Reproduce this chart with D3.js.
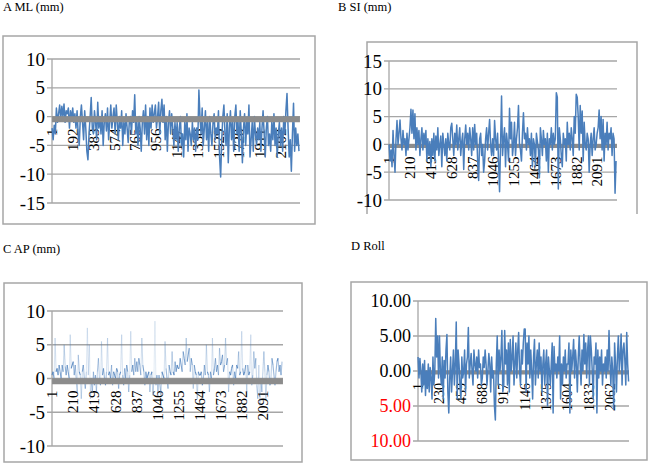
<!DOCTYPE html>
<html>
<head>
<meta charset="utf-8">
<script src="https://cdn.jsdelivr.net/npm/d3@7"></script>
<style>
body { margin: 0; background: #fff; }
svg { display: block; }
text { font-family: "Liberation Serif", "Times New Roman", serif; fill: #000; }
</style>
</head>
<body>
<div class="charts"></div>
<script>
// A - ML (mm), one reading every 10 samples
var aCount = 2280;
var aStep = 10;
var aValues = [
	-2, -4, -1.5, -3, 1.5, -1, 0.5, 2, -0.5, 1.8, 0, 2.2, -1, 1, 0.5, 1.5, -2, 1, -0.5,
	1.5, -1, 0.5, -2, 1, -3, -5, 0, 2, -1, -4, 1, -2, -6, -7.5, -3, 0, 3.3, -2,
	-3, 1, -1, -4, 2.5, -2, 0, -3, 1, -5, -1, 0.5, -2.5, 1.5, -4, -1, 2, -2, 0,
	1.5, -3, 2, -1, -4, 0, -2, 1, -5, -1, -3, 0.5, -2, -4.5, -1, 0, -3, 1, -1,
	3.8, -3, -1, -5, 0, -2, -6, -1, 1, -3, 2, -4, 0, -5, 1.5, -2, 2, -1, 0.5,
	2, -2, 0, 2.5, -3, 1, 3, -1, 2, -4, 0, -6, -1, 1, -3, 0.5, -2, -5, -1,
	-4, -1, -6, -2, 0, -5, -3, -7, -1, -4, 0.5, -6, -2, -3, -5, -1, -4, -2, -6,
	-2, -4, 4.6, 0, -3, 1.5, -5, -2, 1, -4, -1, -6, 0, -3, -5, -1, 0.5, -4, -2,
	-3, 1, -7, -10.5, -4, 0, 2, -3, -5, 0.5, -8, -2, 1, -4, -1, -6, 0, 2, -3,
	-1, -6, 1, -3, -8, -2, 0.5, -5, -1, -3, 2, -7, -4, -1, -6, 0, -3, -5, -2,
	-4, -1, -6, -2, 1, -3, -7, -2, 0, -5, -3, -6, -1, -4, 0.5, -5, -2, -7, -3,
	-1, -5, -2, -6, 0, -3, 1, 4, -2, -7, -4, -9.5, -3, 2.3, -6, -2, -5, -3, -6
];
var aTicks = [1, 192, 383, 574, 765, 956, 1147, 1338, 1529, 1720, 1911, 2102];
var aYTicks = [10, 5, 0, -5, -10, -15];

// B - SI (mm)
var bCount = 2290;
var bStep = 10;
var bValues = [
	0, -3, -1, -4, 2.5, -2, -5, 1, 4.3, 0, 2, 4.4, 1, -1, 2.5, 0, 1, -2, 2, -1, 1,
	3, 6.3, 2, 6.2, 1, 5.5, -1, 3, 0, 2.5, -2, 1, 3, -1, 2, 0, 2.5, -3, 1, -2, 0.5,
	-4, 1, -2, 2, -3, 1.5, -1, 3, -2, 0, 1.5, -4, 2, 0, -2, 1, -3, 2, 0, -1, 3,
	3.8, 1, -2, 2, 0, 3.5, -1, 1, 3, -2, 0.5, 2, -4.5, 1, 3.5, 0, 2, -1, 3, 1, -2,
	3, -1, 3.6, 0, 2, -3, -6.5, 1, 2, -2, 0, -5, -3, 1, 3, -1, 2, 4.5, 0, -2, 1,
	-2, 4.3, 1, -1, 2, -3, -8.5, 0, 8.7, -2, 1, 3, -4, 2, 0, -3, 6.5, 1, 4, -2, 0,
	4, -2, 1, 3, 7, 0, -1, -3, 2, 5.7, 1, 2, -1, 3, 0, 1, -2, 2, -4, 1, 0,
	-4, 2, 0.5, -1, -6, 3, 1, -2, 2.5, 0, 1, -3, 2, -5, 1, 0, 3, -1, 2, 0, 1,
	9.3, 8.5, -8, 3, 1, -2, -4, 2, 0, 1, -3, 4, 0, 2, -1, 3, 1, -2, 5, 2, 9,
	8.5, 5, -1, 7, 2, 6, -3, 4, 0, -1, 2, 1, -5, 0, 2, -2, 1, 3, -1, 0, 2,
	3, 6.2, 1, 5, -1, 4.5, -3, 2, 0, 4, -1, 2, 1, 3, -2, 2, 1, -8.8, -3
];
var bTicks = [1, 210, 419, 628, 837, 1046, 1255, 1464, 1673, 1882, 2091];
var bYTicks = [15, 10, 5, 0, -5, -10];

// C - AP (mm)
var cCount = 2290;
var cStep = 10;
var cValues = [
	0.5, 1, 0, 6, 1, 1.5, 0.5, 2, 1, 0, 2, 1, 5, 1.8, 0.5, 2, 1, 0, 6.5, 1.5, 2,
	2.5, 0.5, 2, 0, -2, 3.5, 1, 0.5, -3, 1, 2, 0, -1.5, 1, 7.5, 0.5, 5, -3, 0, -2, 1,
	-1, 0.5, -2, 1, 3, 0, -1, 5.5, 0.5, 1.5, 0, -1, 1, 6, 0.5, 1, 0, 2, -1, 1, 0.5,
	0, 1.5, 1, -1.5, 0.5, 1, 6.5, 0.5, -1, 1.5, 0, 2, 1, -2, 0.5, 7, 1, 2, 0.5, 3, 1,
	2.5, 1, 3, 2, 0.5, 6, 2, 1, -1, 1, 0, 0.5, 1, -2, 0.5, 1, -2.5, 0, 8.5, -1, 0.5,
	-2, 0.5, -1, -2.5, 1, 0.5, 0, 5.5, 1.5, 0, -1.5, 2, 1, 0.5, 4, 1, 0.5, 2.5, 1, 2, 1.5,
	1.5, 3, 2, 1, 4, 3, 2, 6, 2.5, 3.5, 4.5, 1, 3, 2, -1.5, 2, 1, 0.5, -3, 1, 0.5,
	0.5, 1, -1, 0, 2, 0.5, 5, 1, 0.5, -2, 1, 0, 6, 0.5, 1.5, 3, 1, 2, 0.5, 4.5, 2,
	2.5, 3.5, 1, 2, 6, 2, 3, -2, 1, 0.5, 1.5, 2, -1, 1, 0, 2, 1.5, 4, 0.5, 1, 7,
	1.5, 0.5, 1, 2, -2, 2, 0.5, 1, 6.5, -1, 0.5, 4, 1.5, 3, -1, -3, 2, -4, 0, -2, 1,
	4, 1, -3, 0.5, 2, 1, -1, 0, 3, 2, 0.5, -1, 1, 2.5, 3, 1, 2, 0.5, 2.5
];
var cTicks = [1, 210, 419, 628, 837, 1046, 1255, 1464, 1673, 1882, 2091];
var cYTicks = [10, 5, 0, -5, -10];

// D - Roll
var dCount = 2265;
var dStep = 10;
var dValues = [
	2, -1, 1.8, 0, -3, 1, -2, 1.5, -3.5, 0, -2.5, 1, -3, 0.5, -1, -4, 2, -2, 0, 7.5, 2, 5, -1,
	5, 0, -2, 2, -4, 1.5, -1, 3, 5.2, -3, -6, -1, 2, -3, 0, 3, -2, 1, 7, -4, 3, 1, -2,
	-4, 2, -1, 0, 3, -3, 1, 2, 6.2, -1, 1, 2.5, 0, -2, 3, 1, 0, 2, -1, 3, 0.5, 1, -2,
	-1, 2, 0.5, 3, 1, -2, 0, 2.5, 1, -3, 2, -1, 0, -5, -7, 1, 5, -2, 3, 0, 2, 5.8, -3,
	-2, 5.8, 1, 3, -2, 4, -3, 4.5, 0, 2, 5, -2, 1, 4, -1, 3, 5.5, 0, -2, 3, 1, 4, 6,
	6, -3, 4, 1, 5, -1, 3, 0, -4, 2, 4.5, -2, 1, 3, -1, 4, 0, 2, -3, 1, 3, -2, 1,
	3, -5, 2, 0, -2, 1, 4, -6, 3.5, 0, 1, -1, 2, 0, 5, -4, 1, -2, 2, 0, 3, -1, 1,
	1, 4, -6, 3, 0, 2, 4.5, -1, 3, 1, -3, 2, 5, 1, -2, 3, 0, 5.2, 1, 4, -1, 3, 5,
	-2, 5, 3, 0, -4, 2, 1, 4, -6, 3, -1, 2, 0, 3, -2, 1, 0, 2, -1, 3, 0, 5.8, 1,
	-2, 2, 0, -5.5, 4, 1, -3, 2, 5, 0, 2, 5.3, -2, 3, 4, 1.5, -2, 5.5, 1, -1.5
];
var dTicks = [1, 230, 459, 688, 917, 1146, 1375, 1604, 1833, 2062];
var dYTicks = [10, 5, 0, -5, -10];

// grey second series (flat level) per panel
var refLevels = [-0.45, -0.3, -0.4, -0.2];

function Panel(svg, opt) {
	this.svg = svg;
	this.opt = opt;
};

Panel.prototype = {
	draw: function() {
		var o = this.opt;
		var g = this.svg.append("g");

		var x = d3.scaleLinear()
			.domain([0.5, o.count + 0.5])
			.range([o.plot[0], o.plot[2]]);
		var y = d3.scaleLinear()
			.domain([d3.min(o.yTicks), d3.max(o.yTicks)])
			.range([o.plot[3], o.plot[1]]);

		this.drawBox(g, o);
		this.drawGrid(g, o, y);
		this.drawXLabels(g, o, x, y);

		if (!o.refOnTop) this.drawRef(g, o, x, y);
		if (o.faint) {
			this.drawFaint(g, o, x, y);
		} else {
			this.drawLine(g, o, x, y);
		}
		if (o.refOnTop) this.drawRef(g, o, x, y);

		g.append("text")
			.attr("x", o.title[0])
			.attr("y", o.title[1])
			.style("font-size", "12.5px")
			.text(o.name);
	},
	drawBox: function(g, o) {
		var b = o.box;
		var p = o.open
			? "M" + b[0] + "," + b[3] + "V" + b[1] + "H" + b[2] + "V" + b[3]
			: "M" + b[0] + "," + b[1] + "H" + b[2] + "V" + b[3] + "H" + b[0] + "Z";
		g.append("path")
			.attr("d", p)
			.attr("fill", "none")
			.attr("stroke", "#a6a6a6")
			.attr("stroke-width", 1.5);
	},
	drawGrid: function(g, o, y) {
		g.selectAll(".grid")
			.data(o.yTicks)
			.enter()
			.append("line")
			.attr("x1", o.plot[0] - 5)
			.attr("x2", o.plot[2])
			.attr("y1", function(d) { return y(d); })
			.attr("y2", function(d) { return y(d); })
			.attr("stroke", "#a6a6a6")
			.attr("stroke-width", 1.3);

		g.append("line")
			.attr("x1", o.plot[0])
			.attr("x2", o.plot[0])
			.attr("y1", o.plot[1])
			.attr("y2", o.plot[3])
			.attr("stroke", "#a6a6a6")
			.attr("stroke-width", 1.3);

		g.selectAll(".ylab")
			.data(o.yTicks)
			.enter()
			.append("text")
			.attr("x", o.plot[0] - 7)
			.attr("y", function(d) { return y(d); })
			.attr("dy", "0.35em")
			.attr("text-anchor", "end")
			.style("font-size", o.yFont + "px")
			.style("fill", function(d) { return o.redNeg && d < 0 ? "#ff0000" : "#000"; })
			.text(o.yFormat);
	},
	drawXLabels: function(g, o, x, y) {
		var y0 = y(0) + 12;
		g.selectAll(".xlab")
			.data(o.ticks)
			.enter()
			.append("text")
			.attr("transform", function(d) {
				return "translate(" + x(d) + "," + y0 + ") rotate(-90)";
			})
			.attr("dy", "0.35em")
			.attr("text-anchor", "end")
			.style("font-size", o.xFont + "px")
			.text(function(d) { return d; });
	},
	drawLine: function(g, o, x, y) {
		var line = d3.line()
			.x(function(d, i) { return x(1 + i * o.step); })
			.y(function(d) { return y(d); });
		g.append("path")
			.datum(o.values)
			.attr("d", line)
			.attr("fill", "none")
			.attr("stroke", "#4a7ebb")
			.attr("stroke-width", 1.5)
			.attr("stroke-linejoin", "round");
	},
	drawFaint: function(g, o, x, y) {
		// thin see-through strokes: short moves stack up dark, long spikes stay pale
		var pairs = d3.pairs(o.values.map(function(d, i) { return [1 + i * o.step, d]; }));
		g.selectAll(".seg")
			.data(pairs)
			.enter()
			.append("line")
			.attr("x1", function(d) { return x(d[0][0]); })
			.attr("y1", function(d) { return y(d[0][1]); })
			.attr("x2", function(d) { return x(d[1][0]); })
			.attr("y2", function(d) { return y(d[1][1]); })
			.attr("stroke", "#4a7ebb")
			.attr("stroke-opacity", function(d) {
				var h = Math.abs(y(d[0][1]) - y(d[1][1]));
				return Math.max(0.14, Math.min(0.85, 9 / (h + 6)));
			})
			.attr("stroke-width", 1.1);
	},
	drawRef: function(g, o, x, y) {
		g.append("line")
			.attr("x1", x(1))
			.attr("x2", x(o.count))
			.attr("y1", y(o.ref))
			.attr("y2", y(o.ref))
			.attr("stroke", "#8c8c8c")
			.attr("stroke-width", o.refWidth);
	}
};

var svg = d3.select(".charts")
	.append("svg")
	.attr("width", 650)
	.attr("height", 466);

var plain = function(d) { return d; };
var fixed2 = function(d) { return Math.abs(d).toFixed(2); };

new Panel(svg, {
	name: "A ML (mm)", title: [3, 11],
	box: [3, 36, 315, 224], plot: [52, 59, 300, 203],
	count: aCount, step: aStep, values: aValues, ticks: aTicks, yTicks: aYTicks,
	yFont: 19, xFont: 15, yFormat: plain,
	ref: refLevels[0], refWidth: 6, refOnTop: true
}).draw();

new Panel(svg, {
	name: "B SI (mm)", title: [338, 11],
	box: [367, 42, 637, 214], plot: [389, 61, 617, 200], open: true,
	count: bCount, step: bStep, values: bValues, ticks: bTicks, yTicks: bYTicks,
	yFont: 19, xFont: 15, yFormat: plain,
	ref: refLevels[1], refWidth: 4, refOnTop: false
}).draw();

new Panel(svg, {
	name: "C AP (mm)", title: [3, 253],
	box: [4, 283, 302, 462], plot: [52, 311, 283, 446],
	count: cCount, step: cStep, values: cValues, ticks: cTicks, yTicks: cYTicks,
	yFont: 19, xFont: 15, yFormat: plain, faint: true,
	ref: refLevels[2], refWidth: 6, refOnTop: true
}).draw();

new Panel(svg, {
	name: "D Roll", title: [351, 250],
	box: [351, 282, 647, 460], plot: [418, 301, 629, 441],
	count: dCount, step: dStep, values: dValues, ticks: dTicks, yTicks: dYTicks,
	yFont: 18, xFont: 14, yFormat: fixed2, redNeg: true,
	ref: refLevels[3], refWidth: 4, refOnTop: false
}).draw();
</script>
</body>
</html>
